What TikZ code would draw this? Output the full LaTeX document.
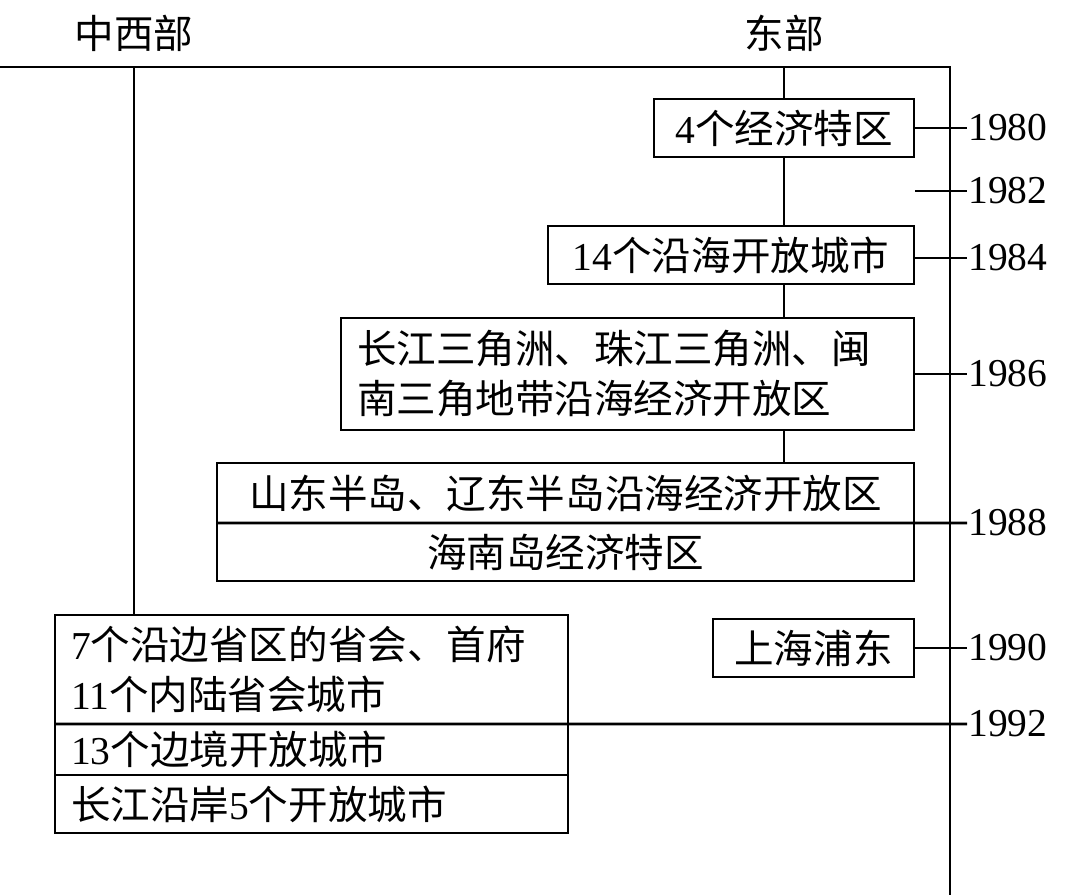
\documentclass[tikz,border=0pt]{standalone}
\usepackage{fontspec}
\setmainfont{Liberation Serif}
\newfontfamily\cjk{Noto Sans CJK SC}
\newfontfamily\lat{Liberation Serif}
\usepackage{tikz}
\usetikzlibrary{positioning}

\begin{document}
\begin{tikzpicture}[
    line width=1.5pt,
    box/.style={rectangle, draw, line width=1.4pt, inner sep=0pt, outer sep=0pt,
                font=\fontsize{22.5}{28.5}\selectfont\cjk},
    lbox/.style={box, align=left, inner xsep=0.32cm},
    year/.style={anchor=west, inner sep=0pt, font=\fontsize{22.5}{28.5}\selectfont\lat},
    lbl/.style={font=\fontsize{22.5}{28.5}\selectfont\cjk}
  ]
    \useasboundingbox (0,0) rectangle (21.4,-17.9);

    % Frame and headings
    \coordinate (tl) at (0,-1.34);
    \coordinate (tr) at (19,-1.34);
    \coordinate (br) at (19,-17.9);
    \coordinate (wtop) at (2.68,-1.34);
    \coordinate (etop) at (15.68,-1.34);
    \node[lbl] (west) at (2.68,-0.66) {中西部};
    \node[lbl] (east) at (15.68,-0.66) {东部};

    % East boxes
    \node[box, minimum width=5.2cm, minimum height=1.16cm] (b1) at (15.68,-2.56)
        {{\lat 4}个经济特区};
    \node[box, minimum width=7.32cm, minimum height=1.16cm] (b2) at (14.62,-5.10)
        {{\lat 14}个沿海开放城市};
    \node[lbox, text width=10.82cm, minimum height=2.24cm] (b3) at (12.55,-7.48)
        {长江三角洲、珠江三角洲、闽\\南三角地带沿海经济开放区};
    \node[box, minimum width=13.94cm, minimum height=1.2cm] (b4a) at (11.31,-9.86)
        {山东半岛、辽东半岛沿海经济开放区};
    \node[box, minimum width=13.94cm, minimum height=1.16cm, below=0cm of b4a] (b4b)
        {海南岛经济特区};
    \node[box, minimum width=4.02cm, minimum height=1.16cm] (b5) at (16.27,-12.96)
        {上海浦东};

    % West boxes
    \node[lbox, text width=9.62cm, minimum height=2.18cm] (b6a) at (6.23,-13.39)
        {{\lat 7}个沿边省区的省会、首府\\{\lat 11}个内陆省会城市};
    \node[lbox, text width=9.62cm, minimum height=1.02cm, below=0cm of b6a] (b6b)
        {{\lat 13}个边境开放城市};
    \node[lbox, text width=9.62cm, minimum height=1.16cm, below=0cm of b6b] (b6c)
        {长江沿岸{\lat 5}个开放城市};

    % Years
    \node[year] (y1980) at (19.34,-2.56) {1980};
    \node[year] (y1982) at (19.34,-3.82) {1982};
    \node[year] (y1984) at (19.34,-5.16) {1984};
    \node[year] (y1986) at (19.34,-7.48) {1986};
    \node[year] (y1988) at (19.34,-10.46) {1988};
    \node[year] (y1990) at (19.34,-12.96) {1990};
    \node[year] (y1992) at (19.34,-14.48) {1992};
    \coordinate (c1982) at (18.3,-3.82);

    % Axis and verticals
    \draw (tl) -- (tr) -- (br);
    \draw (wtop) -- (wtop |- b6a.north);
    \draw (etop) -- (b1.north);
    \draw (b1.south) -- (b1.south |- b2.north);
    \draw (b1.south |- b2.south) -- (b1.south |- b3.north);
    \draw (b1.south |- b3.south) -- (b1.south |- b4a.north);

    % Ticks
    \draw (b1.east) -- (y1980.west);
    \draw (c1982) -- (y1982.west);
    \draw (b2.east |- y1984) -- (y1984.west);
    \draw (b3.east) -- (y1986.west);
    \draw (b4a.south west) -- (y1988.west);
    \draw (b5.east) -- (y1990.west);
    \draw (b6a.south west) -- (y1992.west);
  \end{tikzpicture}
\end{document}
